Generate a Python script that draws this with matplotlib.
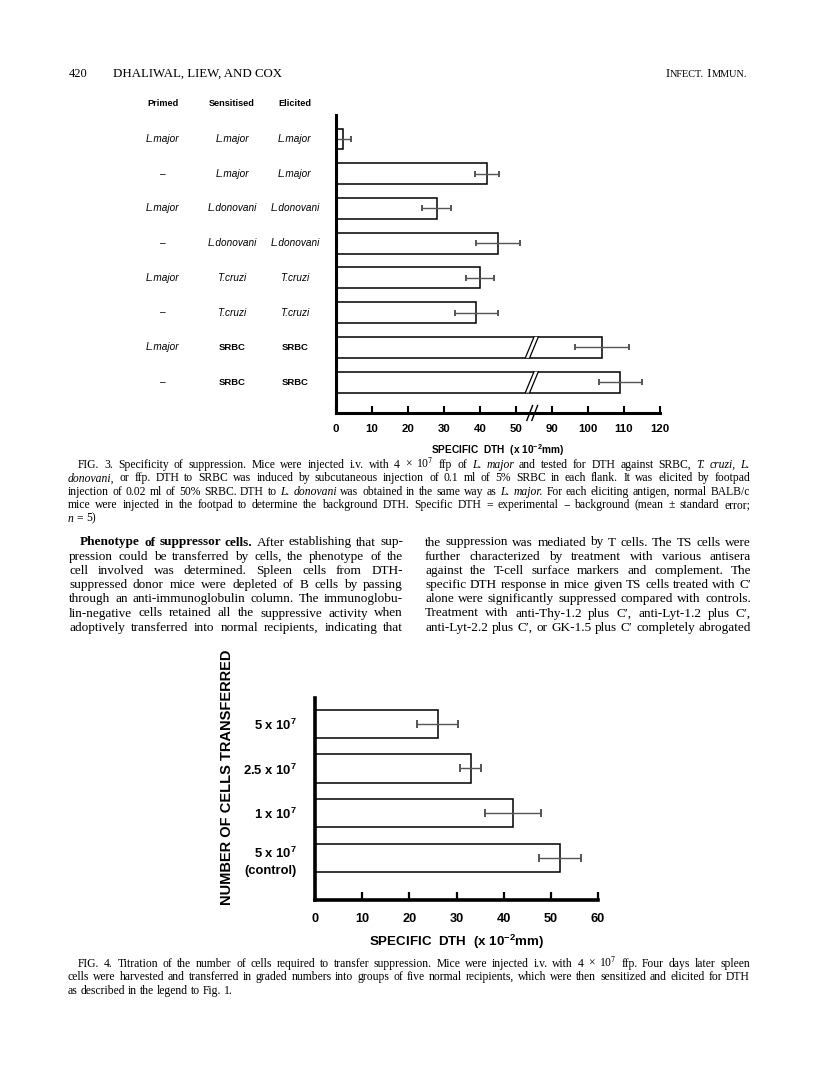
import matplotlib
matplotlib.use("Agg")
import matplotlib.pyplot as plt
from matplotlib.transforms import blended_transform_factory
from matplotlib.patches import Polygon

# ---- data: Fig. 3 (specificity of suppression) ----
primed = ["L.major", "–", "L.major", "–", "L.major", "–", "L.major", "–"]
sensitised = ["L.major", "L.major", "L.donovani", "L.donovani",
              "T.cruzi", "T.cruzi", "SRBC", "SRBC"]
elicited = ["L.major", "L.major", "L.donovani", "L.donovani",
            "T.cruzi", "T.cruzi", "SRBC", "SRBC"]
dth3 = [2, 42, 28, 45, 40, 39, 104, 109]
err3 = [2.3, 3.4, 4, 6, 4, 6, 7.5, 6]
ticks3 = [0, 10, 20, 30, 40, 50, 90, 100, 110, 120]

# ---- data: Fig. 4 (titration of cells) ----
cells = ["5", "2.5", "1", "5"]
control = [False, False, False, True]
dth4 = [26, 33, 42, 52]
err4 = [4.4, 2.3, 6, 4.5]
ticks4 = [0, 10, 20, 30, 40, 50, 60]

W, H = 816, 1084
SANS = "Liberation Sans"
SERIF = "Liberation Serif"
plt.rcParams["mathtext.fontset"] = "custom"
plt.rcParams["mathtext.rm"] = SANS
plt.rcParams["mathtext.bf"] = SANS + ":bold"
plt.rcParams["mathtext.it"] = SANS + ":italic"
plt.rcParams["font.family"] = SANS

fig = plt.figure(figsize=(W / 100, H / 100), dpi=100)
renderer = fig.canvas.get_renderer()


def fx(x):
    return x / W


def fy(y):
    return 1 - y / H


def brk(v):
    # axis break between 55 and 85
    return v if v < 55 else v - 30


def words(line, x0, y, x1=None, size=8.0, family=SERIF):
    objs = []
    for w in line.split(" "):
        kw = dict(fontsize=size, family=family, va="baseline", ha="left",
                  math_fontfamily="stix")
        if len(w) > 2 and w.startswith("_") and w.endswith("_"):
            w = w[1:-1]
            kw["style"] = "italic"
        elif len(w) > 2 and w.startswith("*") and w.endswith("*"):
            w = w[1:-1]
            kw["weight"] = "bold"
        objs.append(fig.text(0, fy(y), w, **kw))
    widths = [o.get_window_extent(renderer).width for o in objs]
    a = fig.text(0, 0, "a a", fontsize=size, family=family)
    b = fig.text(0, 0, "aa", fontsize=size, family=family)
    space = a.get_window_extent(renderer).width - b.get_window_extent(renderer).width
    a.remove()
    b.remove()
    gap = space
    if x1 is not None and len(objs) > 1:
        gap = (x1 - x0 - sum(widths)) / (len(objs) - 1)
    x = x0
    for o, w in zip(objs, widths):
        o.set_x(fx(x))
        x += w + gap


# ---- running head ----
fig.text(fx(69), fy(77), "420", fontsize=9, family=SERIF, va="baseline")
fig.text(fx(113), fy(77), "DHALIWAL, LIEW, AND COX", fontsize=9.3, family=SERIF,
         va="baseline")
x = 666
for s, fs in [("I", 9.3), ("NFECT.", 7.4), (" I", 9.3), ("MMUN.", 7.4)]:
    t = fig.text(fx(x), fy(77), s, fontsize=fs, family=SERIF, va="baseline")
    x += t.get_window_extent(renderer).width

# ---- Fig. 3 ----
ax3 = fig.add_axes([fx(336), fy(413), fx(660) - fx(336), fy(115) - fy(413)])
rows = list(range(len(dth3)))
disp = [brk(v) for v in dth3]
ax3.barh(rows, disp, height=0.6, color="white", edgecolor="black", linewidth=1.1)
ax3.errorbar(disp, rows, xerr=err3, fmt="none", ecolor="#555555", elinewidth=1,
             capsize=2.3, capthick=1.4)
for r, v in zip(rows, dth3):
    if v > 55:
        lo, hi = 52.6, 55.0
        poly = Polygon([(lo, r + 0.3), (hi, r - 0.3), (hi + 1.2, r - 0.3),
                        (lo + 1.2, r + 0.3)], closed=True, facecolor="white",
                       edgecolor="none", zorder=3)
        ax3.add_patch(poly)
        ax3.plot([lo, hi], [r + 0.3, r - 0.3], color="black", lw=0.9, zorder=4)
        ax3.plot([lo + 1.2, hi + 1.2], [r + 0.3, r - 0.3], color="black", lw=0.9,
                 zorder=4)
ax3.set_xlim(0, 90)
ax3.set_ylim(7.89, -0.69)
ax3.set_xticks([brk(t) if t < 55 else t - 30 for t in ticks3])
ax3.set_xticklabels([str(t) for t in ticks3], fontsize=8.2, fontweight="bold")
ax3.set_yticks([])
ax3.tick_params(axis="x", direction="in", length=5, width=1.5, pad=8)
for s in ["top", "right"]:
    ax3.spines[s].set_visible(False)
for s in ["left", "bottom"]:
    ax3.spines[s].set_linewidth(2.2)
ax3.set_xlabel("SPECIFIC  DTH  (x 10$^{\\mathbf{-2}}$mm)", fontsize=7.3,
               fontweight="bold", labelpad=5.5)
xt = ax3.get_xaxis_transform()
for lo in [53.0, 54.4]:
    ax3.plot([lo, lo + 1.6], [-0.025, 0.025], transform=xt, color="black", lw=1,
             clip_on=False)

tr3 = blended_transform_factory(fig.transFigure, ax3.transData)
for cx, head in [(163, "Primed"), (232, "Sensitised"), (295, "Elicited")]:
    fig.text(fx(cx), fy(103), head, fontsize=6.6, fontweight="bold", ha="center",
             va="center")
for col, cx in [(primed, 163), (sensitised, 232), (elicited, 295)]:
    for r, lab in zip(rows, col):
        if lab == "SRBC":
            kw = dict(fontweight="bold", fontsize=6.8)
        elif lab == "–":
            kw = dict(fontsize=7.3)
        else:
            kw = dict(style="italic", fontsize=7.2)
        ax3.text(fx(cx), r, lab, transform=tr3, ha="center", va="center", **kw)

cap3 = [
    "FIG. 3. Specificity of suppression. Mice were injected i.v. with 4 × 10$^7$ ffp of _L._ _major_ and tested for DTH against SRBC, _T._ _cruzi,_ _L._",
    "_donovani,_ or ffp. DTH to SRBC was induced by subcutaneous injection of 0.1 ml of 5% SRBC in each flank. It was elicited by footpad",
    "injection of 0.02 ml of 50% SRBC. DTH to _L._ _donovani_ was obtained in the same way as _L._ _major._ For each eliciting antigen, normal BALB/c",
    "mice were injected in the footpad to determine the background DTH. Specific DTH = experimental − background (mean ± standard error;",
    "_n_ = 5)",
]
for i, line in enumerate(cap3):
    x0 = 78 if i == 0 else 68
    words(line, x0, 468 + 13.4 * i, None if i == len(cap3) - 1 else 750, size=8.4)

# ---- body text ----
left = [
    "*Phenotype* *of* *suppressor* *cells.* After establishing that sup-",
    "pression could be transferred by cells, the phenotype of the",
    "cell involved was determined. Spleen cells from DTH-",
    "suppressed donor mice were depleted of B cells by passing",
    "through an anti-immunoglobulin column. The immunoglobu-",
    "lin-negative cells retained all the suppressive activity when",
    "adoptively transferred into normal recipients, indicating that",
]
right = [
    "the suppression was mediated by T cells. The TS cells were",
    "further characterized by treatment with various antisera",
    "against the T-cell surface markers and complement. The",
    "specific DTH response in mice given TS cells treated with C′",
    "alone were significantly suppressed compared with controls.",
    "Treatment with anti-Thy-1.2 plus C′, anti-Lyt-1.2 plus C′,",
    "anti-Lyt-2.2 plus C′, or GK-1.5 plus C′ completely abrogated",
]
for i, line in enumerate(left):
    words(line, 80 if i == 0 else 69, 545.5 + 14.2 * i, 403, size=9.5)
for i, line in enumerate(right):
    words(line, 425, 545.5 + 14.2 * i, 751, size=9.5)

# ---- Fig. 4 ----
ax4 = fig.add_axes([fx(315), fy(900), fx(598) - fx(315), fy(698) - fy(900)])
rows4 = list(range(len(dth4)))
ax4.barh(rows4, dth4, height=0.63, color="white", edgecolor="black", linewidth=1.1)
ax4.errorbar(dth4, rows4, xerr=err4, fmt="none", ecolor="#555555", elinewidth=1,
             capsize=2.6, capthick=1.4)
ax4.set_xlim(0, 60)
ax4.set_ylim(3.95, -0.58)
ax4.set_xticks(ticks4)
ax4.set_xticklabels([str(t) for t in ticks4], fontsize=9.2, fontweight="bold")
labels4 = []
for n, c in zip(cells, control):
    s = n + " x 10$^{\\mathbf{7}}$"
    if c:
        s += "\n(control)"
    labels4.append(s)
ax4.set_yticks(rows4)
ax4.set_yticklabels(labels4, fontsize=9.4, fontweight="bold", linespacing=1.5)
ax4.tick_params(axis="y", length=0, pad=13)
ax4.tick_params(axis="x", direction="in", length=6, width=1.6, pad=9)
for s in ["top", "right"]:
    ax4.spines[s].set_visible(False)
for s in ["left", "bottom"]:
    ax4.spines[s].set_linewidth(2.6)
ax4.set_xlabel("SPECIFIC  DTH  (x 10$^{\\mathbf{-2}}$mm)", fontsize=9.6,
               fontweight="bold", labelpad=6)
ax4.set_ylabel("NUMBER OF CELLS TRANSFERRED", fontsize=10.5, fontweight="bold",
               va="center")
ax4.yaxis.set_label_coords((227 - 315) / 283, (900 - 777) / 202)

cap4 = [
    "FIG. 4. Titration of the number of cells required to transfer suppression. Mice were injected i.v. with 4 × 10$^7$ ffp. Four days later spleen",
    "cells were harvested and transferred in graded numbers into groups of five normal recipients, which were then sensitized and elicited for DTH",
    "as described in the legend to Fig. 1.",
]
for i, line in enumerate(cap4):
    x0 = 78 if i == 0 else 68
    words(line, x0, 967 + 13.4 * i, None if i == len(cap4) - 1 else 750, size=8.4)

fig.savefig("out.png", dpi=100, facecolor="white")
